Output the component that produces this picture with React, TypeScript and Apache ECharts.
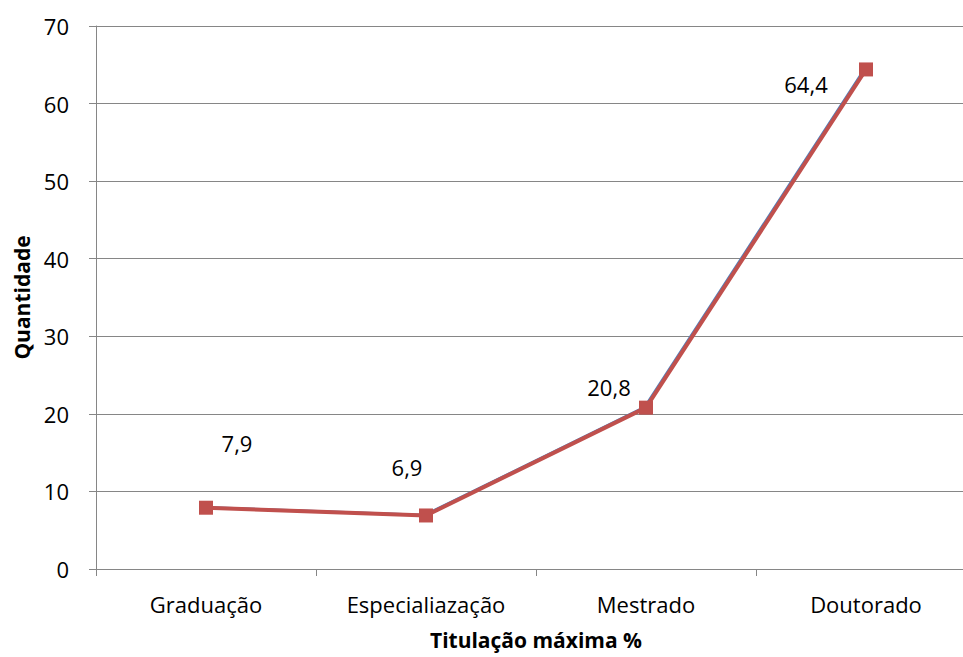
import React, { useEffect, useRef } from "react";
import * as echarts from "echarts";

const categories = ["Graduação", "Especialiazação", "Mestrado", "Doutorado"];
const blueValues = [7.9, 6.9, 20.8, 64.4];
const redValues = [7.9, 6.9, 20.8, 64.4];
const labelOffsets: [number, number][] = [
  [31, -65],
  [-19, -48],
  [-37, -21],
  [-60, 15],
];
const yTicks = { min: 0, max: 70, interval: 10 };

const FONT = "'Open Sans', sans-serif";

export default function App() {
  const ref = useRef<HTMLDivElement>(null);
  useEffect(() => {
    if (!ref.current) return;
    const chart = echarts.init(ref.current, undefined, { renderer: "svg" });
    chart.setOption({
      animation: false,
      backgroundColor: "#ffffff",
      textStyle: { fontFamily: FONT },
      grid: [
        { left: 96, top: 26, bottom: 88, right: -13, outerBoundsMode: "none", containLabel: false },
        { left: 94.3, top: 25.3, bottom: 88.7, right: -11.3, outerBoundsMode: "none", containLabel: false },
      ],
      xAxis: [
        {
          type: "category",
          gridIndex: 0,
          data: categories,
          boundaryGap: true,
          name: "Titulação máxima %",
          nameLocation: "middle",
          nameGap: 60,
          nameTextStyle: { fontFamily: FONT, fontSize: 21, fontWeight: "bold", color: "#000" },
          axisLine: { lineStyle: { color: "#868686", width: 1 } },
          axisTick: { show: true, length: 7, lineStyle: { color: "#868686" } },
          axisLabel: { color: "#000", fontSize: 22, fontFamily: FONT, margin: 24 },
        },
        {
          type: "category",
          gridIndex: 1,
          data: categories,
          show: false,
        },
      ],
      yAxis: [
        {
          type: "value",
          gridIndex: 0,
          min: yTicks.min,
          max: yTicks.max,
          interval: yTicks.interval,
          name: "Quantidade",
          nameLocation: "middle",
          nameRotate: 90,
          nameGap: 64,
          nameTextStyle: { fontFamily: FONT, fontSize: 21, fontWeight: "bold", color: "#000" },
          axisLine: { show: true, lineStyle: { color: "#868686", width: 1 } },
          axisTick: { show: true, length: 7, lineStyle: { color: "#868686" } },
          axisLabel: { color: "#000", fontSize: 22, fontFamily: FONT, margin: 27 },
          splitLine: { show: true, lineStyle: { color: "#868686", width: 1 } },
        },
        {
          type: "value",
          gridIndex: 1,
          min: yTicks.min,
          max: yTicks.max,
          interval: yTicks.interval,
          show: false,
          splitLine: { show: false },
        },
      ],
      series: [
        {
          type: "line",
          xAxisIndex: 1,
          yAxisIndex: 1,
          data: blueValues,
          symbol: "none",
          lineStyle: { color: "#4f81bd", width: 2 },
          z: 2,
        },
        {
          type: "line",
          xAxisIndex: 0,
          yAxisIndex: 0,
          data: redValues.map((v, i) => ({
            value: v,
            label: {
              show: true,
              position: "inside",
              offset: labelOffsets[i],
              formatter: v.toFixed(1).replace(".", ","),
              color: "#000",
              fontSize: 22,
              fontFamily: FONT,
            },
          })),
          symbol: "rect",
          symbolSize: 14,
          itemStyle: { color: "#c0504d" },
          lineStyle: { color: "#c0504d", width: 4 },
          z: 3,
        },
      ],
    });
    return () => chart.dispose();
  }, []);
  return (
    <div
      ref={ref}
      style={{ position: "fixed", left: 0, top: 0, width: 963, height: 657, background: "#fff" }}
    />
  );
}
